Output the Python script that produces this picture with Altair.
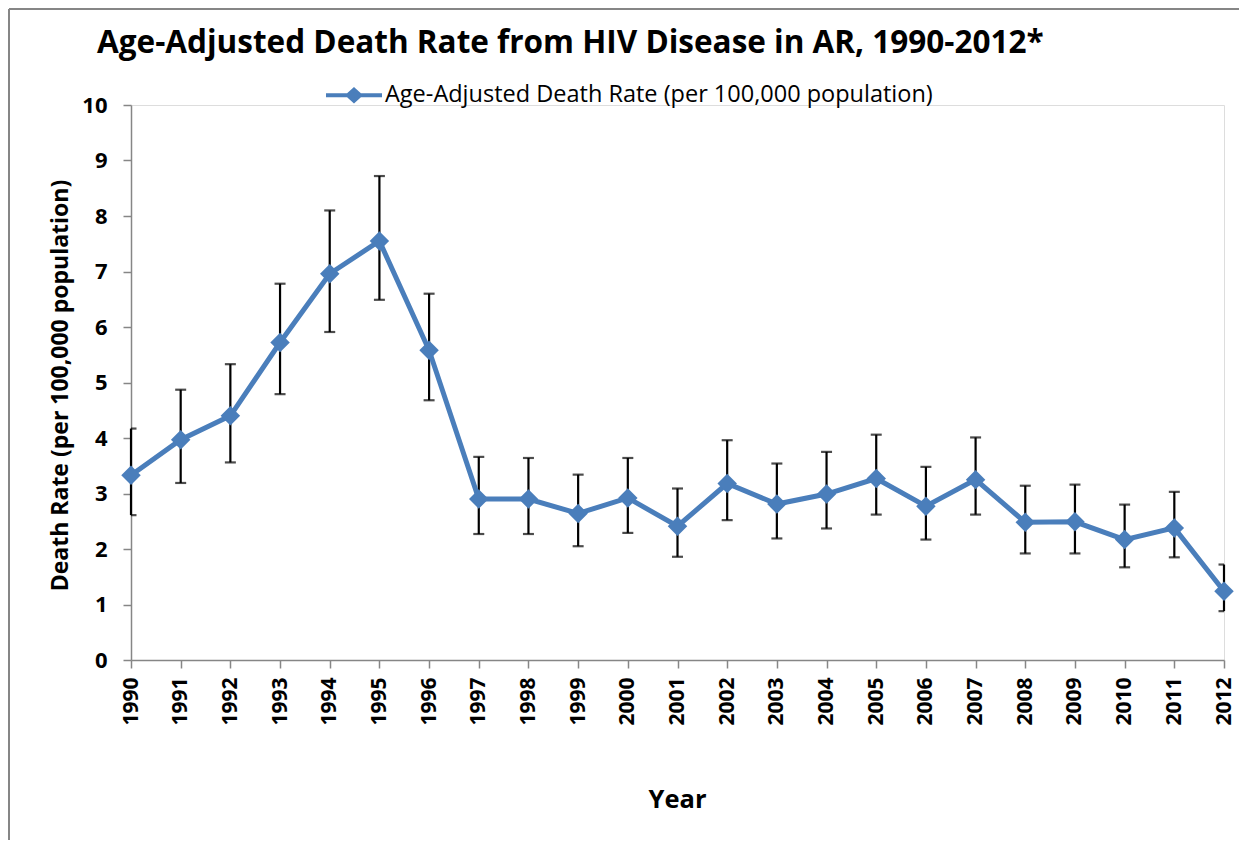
import altair as alt
import pandas as pd

years = list(range(1990, 2013))
rate = [3.33, 3.97, 4.40, 5.72, 6.96, 7.55, 5.58, 2.90, 2.90, 2.64, 2.92, 2.41,
        3.18, 2.81, 2.99, 3.27, 2.77, 3.25, 2.48, 2.49, 2.17, 2.38, 1.24]
lower = [2.61, 3.19, 3.56, 4.79, 5.91, 6.49, 4.68, 2.27, 2.27, 2.05, 2.29, 1.86,
         2.52, 2.19, 2.37, 2.62, 2.17, 2.62, 1.92, 1.92, 1.67, 1.85, 0.88]
upper = [4.17, 4.87, 5.33, 6.78, 8.10, 8.72, 6.60, 3.66, 3.64, 3.34, 3.64, 3.09,
         3.96, 3.54, 3.75, 4.06, 3.48, 4.01, 3.14, 3.16, 2.80, 3.03, 1.72]
y_ticks = list(range(0, 11))
series_name = "Age-Adjusted Death Rate (per 100,000 population)"
title_text = "Age-Adjusted Death Rate from HIV Disease in AR, 1990-2012*"

df = pd.DataFrame({"Year": years, "Rate": rate, "Lower": lower, "Upper": upper,
                   "Series": [series_name] * len(years)})

BLUE = "#4A7EBB"
GREY = "#868686"
FONT = "Open Sans"

x_enc = alt.X("Year:Q",
              scale=alt.Scale(domain=[years[0], years[-1]], nice=False, zero=False),
              axis=alt.Axis(values=years, format="d", title="Year", labelAngle=270,
                            labelFont=FONT, labelFontWeight="bold", labelFontSize=21,
                            labelColor="black", labelPadding=9, tickSize=8,
                            tickColor=GREY, domainColor=GREY, domainWidth=1.5,
                            tickWidth=1.5, grid=False,
                            titleFont=FONT, titleFontWeight="bold", titleFontSize=25.5,
                            titleColor="black", titleY=147, titleBaseline="alphabetic",
                            titleX=546, labelOverlap=False, labelFlush=False))
y_scale = alt.Scale(domain=[0, 10], nice=False)
y_axis = alt.Axis(values=y_ticks, title="Death Rate (per 100,000 population)",
                  labelFont=FONT, labelFontWeight="bold", labelFontSize=22,
                  labelColor="black", labelPadding=16, tickSize=8, tickColor=GREY,
                  tickWidth=1.5, domainColor=GREY, domainWidth=1.5, grid=False,
                  titleFont=FONT, titleFontWeight="bold", titleFontSize=23,
                  titleColor="black", titleAngle=270, titleX=-71, titleY=280,
                  titleAlign="center", titleBaseline="middle")

base = alt.Chart(df)
one = alt.Chart(pd.DataFrame({"k": [0]}))

frame_left = one.mark_rule(color=GREY, strokeWidth=2).encode(
    x=alt.value(-122), y=alt.value(-96), y2=alt.value(900))
frame_top = one.mark_rule(color=GREY, strokeWidth=2).encode(
    x=alt.value(-122), x2=alt.value(1400), y=alt.value(-96))

bars = base.mark_rule(color="black", strokeWidth=2.2).encode(
    x=x_enc, y=alt.Y("Lower:Q", scale=y_scale, axis=y_axis), y2="Upper:Q")

cap_lo = base.mark_tick(color="black", thickness=2.2, size=11, orient="horizontal",
                        clip=True).encode(x="Year:Q", y="Lower:Q")
cap_hi = base.mark_tick(color="black", thickness=2.2, size=11, orient="horizontal",
                        clip=True).encode(x="Year:Q", y="Upper:Q")

legend_path = "M-1,0H1M0,-0.2L0.22,0L0,0.2L-0.22,0Z"
line = base.mark_line(strokeWidth=5).encode(
    x="Year:Q", y="Rate:Q",
    color=alt.Color("Series:N",
                    scale=alt.Scale(domain=[series_name], range=[BLUE]),
                    legend=alt.Legend(title=None, orient="none", legendX=193,
                                      legendY=-39.7, symbolType=legend_path,
                                      symbolSize=3136, symbolStrokeWidth=4,
                                      symbolFillColor=BLUE, labelFont=FONT,
                                      labelFontSize=23.5, labelColor="black",
                                      labelOffset=1, labelLimit=0, padding=0)))

points = base.mark_point(shape="diamond", filled=True, size=380, color=BLUE,
                         opacity=1).encode(x="Year:Q", y="Rate:Q")

chart = alt.layer(frame_left, frame_top, bars, cap_lo, cap_hi, line, points).properties(
    width=1093, height=555,
    title=alt.TitleParams(title_text, anchor="start", frame="group", dx=-34, dy=55,
                          font=FONT, fontSize=31.5, fontWeight="bold", color="black"),
    autosize=alt.AutoSizeParams(type="none"),
    padding={"left": 123, "top": 97, "right": 15, "bottom": 180},
).configure_view(stroke=None).configure(background="white")

chart.save("out.html", embed_options={"renderer": "svg", "actions": False})
